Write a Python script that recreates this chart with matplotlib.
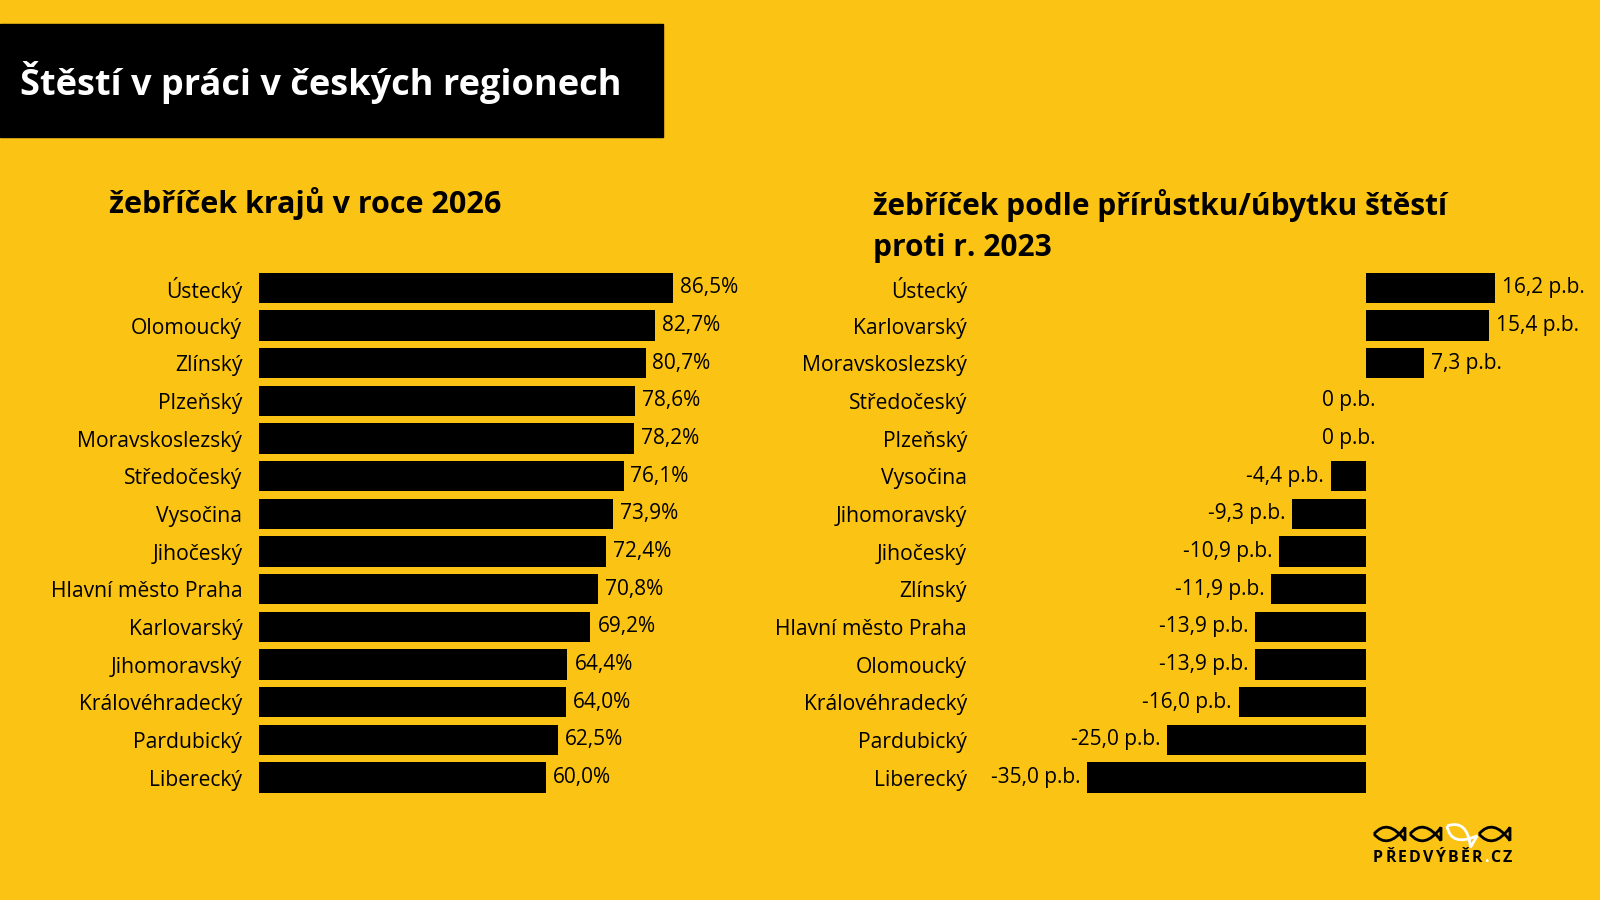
import matplotlib
matplotlib.use("Agg")
import matplotlib.pyplot as plt
from matplotlib.patches import Rectangle, PathPatch
from matplotlib.path import Path
from matplotlib.transforms import Affine2D

# data
left_regions = ["Ústecký", "Olomoucký", "Zlínský", "Plzeňský", "Moravskoslezský",
                "Středočeský", "Vysočina", "Jihočeský", "Hlavní město Praha",
                "Karlovarský", "Jihomoravský", "Královéhradecký", "Pardubický", "Liberecký"]
left_values = [86.5, 82.7, 80.7, 78.6, 78.2, 76.1, 73.9, 72.4, 70.8, 69.2, 64.4, 64.0, 62.5, 60.0]

right_regions = ["Ústecký", "Karlovarský", "Moravskoslezský", "Středočeský", "Plzeňský",
                 "Vysočina", "Jihomoravský", "Jihočeský", "Zlínský", "Hlavní město Praha",
                 "Olomoucký", "Královéhradecký", "Pardubický", "Liberecký"]
right_values = [16.2, 15.4, 7.3, 0, 0, -4.4, -9.3, -10.9, -11.9, -13.9, -13.9, -16.0, -25.0, -35.0]

title = "Štěstí v práci v českých regionech"
left_subtitle = "žebříček krajů v roce 2026"
right_subtitle = "žebříček podle přírůstku/úbytku štěstí\nproti r. 2023"

BG = "#FBC314"
W, H = 1600, 900
FONT = "Open Sans"
LABEL_SIZE = 15.2
VALUE_SIZE = 15

fig = plt.figure(figsize=(16, 9), dpi=100, facecolor=BG)


def fbox(x0, y0, x1, y1):
    # pixel box (y down) -> figure fraction [left, bottom, width, height]
    return [x0 / W, 1 - y1 / H, (x1 - x0) / W, (y1 - y0) / H]


def fmt(v):
    return f"{v:.1f}".replace(".", ",")


# overlay in pixel coordinates for title box and logo
bg = fig.add_axes([0, 0, 1, 1])
bg.set_xlim(0, W)
bg.set_ylim(H, 0)
bg.axis("off")
bg.add_patch(Rectangle((0, 23.5), 663, 113.5, color="black"))
bg.text(20, 82, title, color="white", fontsize=26, fontweight="bold",
        family=FONT, va="center", ha="left")
bg.text(109, 204, left_subtitle, color="black", fontsize=22, fontweight="bold",
        family=FONT, va="center", ha="left")
bg.text(873, 226, right_subtitle, color="black", fontsize=21.5, fontweight="bold",
        family=FONT, va="center", ha="left", linespacing=1.5)

# left chart
n = len(left_regions)
ax1 = fig.add_axes(fbox(259, 269, 738, 796.4))
ax1.barh(range(n), left_values, height=0.81, color="black")
ax1.set_xlim(0, 100)
ax1.set_ylim(n - 0.5, -0.5)
ax1.set_yticks(range(n))
ax1.set_yticklabels(left_regions, fontsize=LABEL_SIZE, family=FONT)
ax1.tick_params(axis="y", length=0, pad=12)
ax1.set_xticks([])
for i, v in enumerate(left_values):
    ax1.annotate(fmt(v) + "%", (v, i), xytext=(5, 0), textcoords="offset points",
                 ha="left", va="center", fontsize=VALUE_SIZE, family=FONT)

# right chart
ax2 = fig.add_axes(fbox(1047.6, 269, 1525.2, 796.4))
ax2.barh(range(n), right_values, height=0.81, color="black")
ax2.set_xlim(-40, 20)
ax2.set_ylim(n - 0.5, -0.5)
ax2.set_yticks(range(n))
ax2.set_yticklabels(right_regions, fontsize=LABEL_SIZE, family=FONT)
ax2.tick_params(axis="y", length=0, pad=58)
ax2.set_xticks([])
for i, v in enumerate(right_values):
    if v > 0:
        ax2.annotate(fmt(v) + " p.b.", (v, i), xytext=(5, 0), textcoords="offset points",
                     ha="left", va="center", fontsize=VALUE_SIZE, family=FONT)
    elif v == 0:
        ax2.annotate("0 p.b.", (v, i), xytext=(7, 0), textcoords="offset points",
                     ha="right", va="center", fontsize=VALUE_SIZE, family=FONT)
    else:
        ax2.annotate(fmt(v) + " p.b.", (v, i), xytext=(-5, 0), textcoords="offset points",
                     ha="right", va="center", fontsize=VALUE_SIZE, family=FONT)

for ax in (ax1, ax2):
    ax.set_facecolor("none")
    for s in ax.spines.values():
        s.set_visible(False)

# logo: four fish outlines + letter-spaced text
fish_verts = [(0, 0), (0.45, -0.75), (1, 0.3),
              (1, -0.3),
              (0.45, 0.75), (0, 0)]
fish_codes = [Path.MOVETO, Path.CURVE3, Path.CURVE3,
              Path.LINETO,
              Path.CURVE3, Path.CURVE3]
fish = Path(fish_verts, fish_codes)
fish_pos = [(1374, 834, 0, "black"), (1410, 834, 0, "black"),
            (1447, 826, 30, "white"), (1479, 834, 0, "black")]
for x0, y0, rot, col in fish_pos:
    tr = Affine2D().scale(31, 22).rotate_deg(rot).translate(x0, y0) + bg.transData
    bg.add_patch(PathPatch(fish, transform=tr, fill=False, edgecolor=col, lw=2))

renderer = fig.canvas.get_renderer()
logo = "PŘEDVÝBĚR.CZ"
chars = []
for ch in logo:
    t = bg.text(0, 858, ch, fontsize=11.5, fontweight="bold", family=FONT,
                va="center", ha="left", color="white" if ch == "." else "black")
    chars.append((t, t.get_window_extent(renderer).width))
total = sum(w for _, w in chars)
track = (1512 - 1373 - total) / (len(chars) - 1)
x = 1373
for t, w in chars:
    t.set_x(x)
    x += w + track

fig.savefig("out.png", dpi=100, facecolor=BG)
